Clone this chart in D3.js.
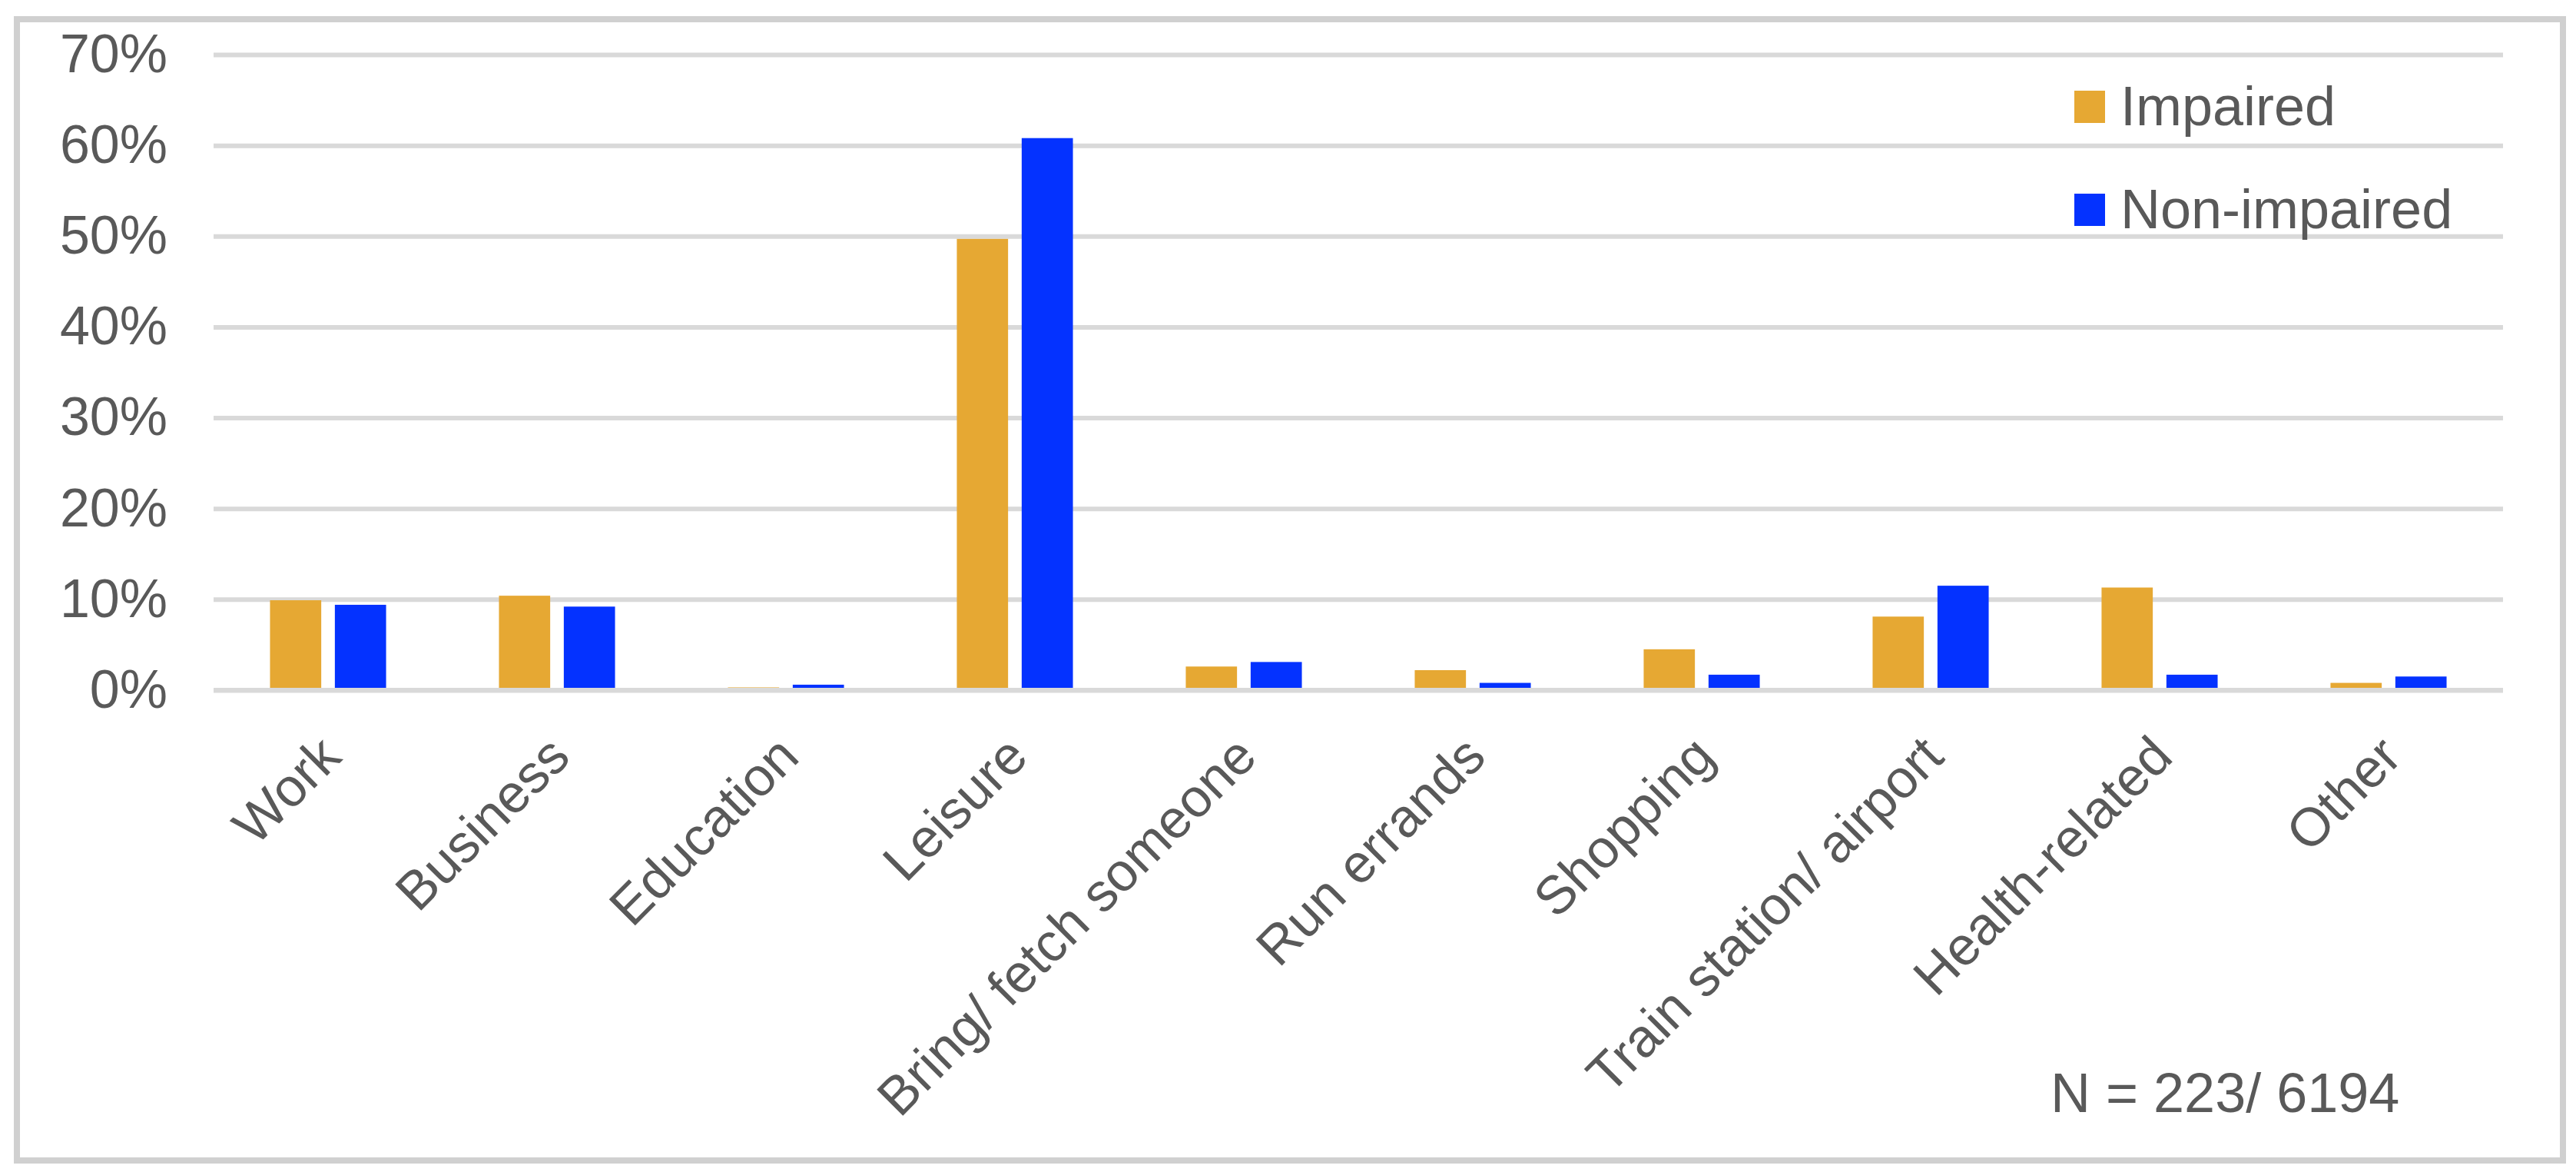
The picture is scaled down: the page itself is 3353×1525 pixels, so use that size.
<!DOCTYPE html>
<html>
<head>
<meta charset="utf-8">
<script src="https://cdn.jsdelivr.net/npm/d3@7"></script>
<style>
  body { margin: 0; background: #fff; }
  text { font-family: Arial, "Liberation Sans", sans-serif; fill: #595959; }
</style>
</head>
<body>
<script>

var categories = ["Work", "Business", "Education", "Leisure", "Bring/ fetch someone",
  "Run errands", "Shopping", "Train station/ airport", "Health-related", "Other"];
var seriesNames = ["Impaired", "Non-impaired"];
var impaired    = [9.9, 10.4, 0.3, 49.7, 2.6, 2.2, 4.5, 8.1, 11.3, 0.8];
var nonImpaired = [9.4, 9.2, 0.6, 60.8, 3.1, 0.8, 1.7, 11.5, 1.7, 1.5];
var yTicks = [0, 10, 20, 30, 40, 50, 60, 70];
var noteText = "N = 223/ 6194";

var colors = { "Impaired": "#E6A833", "Non-impaired": "#0432FF" };

var svgConfig = {
  width: 3353,
  height: 1525,
  left: 278, right: 3258, top: 71, bottom: 898
};

var rows = categories.map(function(c, i) {
  return { cat: c, values: [
    { key: "Impaired", value: impaired[i] },
    { key: "Non-impaired", value: nonImpaired[i] }
  ]};
});

var svg = d3.select("body").append("svg")
  .attr("width", svgConfig.width)
  .attr("height", svgConfig.height);

// outer frame
svg.append("rect")
  .attr("x", 22).attr("y", 25)
  .attr("width", 3314).attr("height", 1485)
  .attr("fill", "none")
  .attr("stroke", "#d0d0d0")
  .attr("stroke-width", 8);

var x0 = d3.scaleBand()
  .domain(categories)
  .range([svgConfig.left, svgConfig.right])
  .paddingInner(0.493)
  .paddingOuter(0.2465);

var x1 = d3.scaleBand()
  .domain(seriesNames)
  .range([0, x0.bandwidth()])
  .paddingInner(0.21);

var y = d3.scaleLinear()
  .domain([0, 70])
  .range([svgConfig.bottom, svgConfig.top]);

// gridlines
var yAxis = d3.axisLeft(y)
  .tickValues(yTicks)
  .tickSize(-(svgConfig.right - svgConfig.left))
  .tickPadding(60)
  .tickFormat(function(d) { return d + "%"; });

var gy = svg.append("g")
  .attr("transform", "translate(" + svgConfig.left + ",0)")
  .call(yAxis);
gy.select(".domain").remove();
gy.selectAll(".tick line")
  .attr("stroke", "#d9d9d9")
  .attr("stroke-width", 6);
gy.selectAll(".tick text")
  .attr("font-size", 70)
  .attr("fill", "#595959");

// bars
svg.append("g").selectAll("g")
  .data(rows)
  .join("g")
  .attr("transform", function(d) { return "translate(" + x0(d.cat) + ",0)"; })
  .selectAll("rect")
  .data(function(d) { return d.values; })
  .join("rect")
  .attr("x", function(d) { return x1(d.key); })
  .attr("y", function(d) { return y(d.value); })
  .attr("width", x1.bandwidth())
  .attr("height", function(d) { return y(0) - y(d.value); })
  .attr("fill", function(d) { return colors[d.key]; });

// zero line on top of the bars
svg.append("line")
  .attr("x1", svgConfig.left).attr("x2", svgConfig.right)
  .attr("y1", y(0)).attr("y2", y(0))
  .attr("stroke", "#d9d9d9")
  .attr("stroke-width", 6);

// category labels
svg.append("g").selectAll("text")
  .data(categories)
  .join("text")
  .attr("transform", function(d) {
    var cx = x0(d) + x0.bandwidth() / 2;
    return "translate(" + (cx + 20) + ",988) rotate(-45)";
  })
  .attr("text-anchor", "end")
  .attr("font-size", 70)
  .text(function(d) { return d; });

// legend
var legend = svg.append("g").selectAll("g")
  .data(seriesNames)
  .join("g")
  .attr("transform", function(d, i) { return "translate(2700," + (118 + i * 134) + ")"; });
legend.append("rect")
  .attr("width", 40).attr("height", 42)
  .attr("fill", function(d) { return colors[d]; });
legend.append("text")
  .attr("x", 60).attr("y", 45)
  .attr("font-size", 72)
  .text(function(d) { return d; });

svg.append("text")
  .attr("x", 2669).attr("y", 1447)
  .attr("font-size", 72)
  .text(noteText);

</script>
</body>
</html>
